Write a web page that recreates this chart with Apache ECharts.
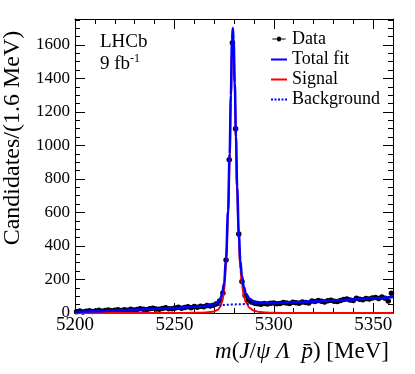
<!DOCTYPE html>
<html>
<head>
<meta charset="utf-8">
<script src="https://cdn.jsdelivr.net/npm/echarts@6/dist/echarts.min.js"></script>
<style>
    html, body { margin: 0; padding: 0; background: #fff; }
    #chart { width: 415px; height: 374px; }
</style>
</head>
<body>
<div id="chart"></div>
<script>
// binning of the histogram (from the axis title: 1.6 MeV per bin)
var binLow = 5200;
var binWidth = 1.6;

// candidates per bin (100 bins, 5200-5360 MeV)
var counts = [
    8, 12, 6, 10, 14, 9, 12, 16, 11, 15,
    18, 13, 16, 20, 15, 19, 17, 22, 18, 21,
    26, 22, 20, 25, 28, 24, 22, 27, 31, 26,
    25, 30, 34, 29, 33, 37, 32, 39, 35, 41,
    38, 45, 42, 47, 55, 72, 120, 316, 915, 1613,
    1100, 471, 188, 105, 78, 66, 58, 55, 52, 56,
    54, 58, 60, 55, 57, 62, 59, 56, 64, 61,
    58, 66, 63, 60, 72, 68, 74, 70, 66, 73,
    76, 70, 68, 75, 80, 84, 78, 74, 88, 82,
    79, 86, 83, 90, 92, 86, 95, 88, 72, 118
];

// fit curves
var fitMass = [5200, 5210, 5220, 5230, 5240, 5250, 5260, 5266, 5270, 5272,
    5273, 5274, 5275, 5276, 5277, 5277.8, 5278.4, 5279, 5279.4, 5279.8,
    5280.4, 5281, 5281.6, 5282.4, 5283.2, 5284, 5285, 5286, 5288, 5290,
    5293, 5296, 5300, 5310, 5320, 5330, 5340, 5350, 5360];
var fitSignal = [0, 0, 0, 0, 0, 0, 1, 3, 9, 20,
    35, 65, 130, 280, 560, 900, 1250, 1580, 1650, 1580,
    1320, 1000, 700, 430, 260, 170, 100, 62, 28, 14,
    6, 3, 1, 0, 0, 0, 0, 0, 0];
var fitBackground = [5, 10, 15, 20, 25, 30, 36, 40, 43, 45,
    46, 47, 48, 49, 49.5, 50, 50, 50.5, 51, 51,
    51, 51.5, 51.5, 52, 52, 52.5, 53, 53.5, 54, 55,
    56.5, 57.5, 59, 64, 69, 75, 81, 88, 95];

var font = 'Liberation Serif';

// build series data
var points = [], errors = [], sigLine = [], bkgLine = [], totLine = [];
for (var i = 0; i < counts.length; i++) {
    var x = binLow + binWidth * (i + 0.5);
    points.push([x, counts[i]]);
    errors.push([x, counts[i], Math.sqrt(counts[i])]);
}
for (var j = 0; j < fitMass.length; j++) {
    sigLine.push([fitMass[j], fitSignal[j]]);
    bkgLine.push([fitMass[j], fitBackground[j]]);
    totLine.push([fitMass[j], fitSignal[j] + fitBackground[j]]);
}

function plain(v) {
    return String(v);
}

function xAxisDef(pos, interval, tickLen, main) {
    return {
        type: 'value', position: pos, min: 5200, max: 5360, interval: interval,
        axisLine: { show: main, onZero: false, lineStyle: { color: '#000', width: 1 } },
        axisTick: { show: true, inside: true, length: tickLen, lineStyle: { color: '#000', width: 1 } },
        axisLabel: { show: false },
        splitLine: { show: false }
    };
}
function yAxisDef(pos, interval, tickLen, main) {
    return {
        type: 'value', position: pos, min: 0, max: 1755, interval: interval,
        axisLine: { show: main, onZero: false, lineStyle: { color: '#000', width: 1 } },
        axisTick: { show: true, inside: true, length: tickLen, lineStyle: { color: '#000', width: 1 } },
        axisLabel: { show: false },
        splitLine: { show: false }
    };
}

var xBottom = xAxisDef('bottom', 50, 10, true);
xBottom.axisLabel = {
    show: true, margin: 3, showMaxLabel: false, formatter: plain,
    fontFamily: font, fontSize: 19, color: '#000'
};
xBottom.name = '{i|m}({i|J}/{i|ψ} {i|Λ}  {i|p̄}) [MeV]';
xBottom.nameLocation = 'middle';
xBottom.nameGap = 27;
xBottom.nameTextStyle = {
    fontFamily: font, fontSize: 23, color: '#000', padding: [0, 0, 0, 136],
    rich: { i: { fontFamily: font, fontSize: 23, fontStyle: 'italic', color: '#000' } }
};

var yLeft = yAxisDef('left', 200, 10, true);
yLeft.axisLabel = {
    show: true, margin: 5, showMaxLabel: false, formatter: plain,
    fontFamily: font, fontSize: 17, color: '#000'
};
yLeft.name = 'Candidates/(1.6 MeV)';
yLeft.nameLocation = 'middle';
yLeft.nameGap = 37;
yLeft.nameTextStyle = { fontFamily: font, fontSize: 24, color: '#000', padding: [0, 0, 0, 56] };

var chart = echarts.init(document.getElementById('chart'));
var option = {
    animation: false,
    backgroundColor: '#fff',
    grid: { left: 75, right: 22, top: 19, bottom: 61, containLabel: false, outerBoundsMode: 'none' },
    title: {
        text: 'LHCb\n9 fb{s|-1}',
        left: 100, top: 31, padding: 0,
        textStyle: {
            fontFamily: font, fontSize: 19, fontWeight: 'normal', color: '#000', lineHeight: 22,
            rich: { s: { fontFamily: font, fontSize: 12, color: '#000', verticalAlign: 'top', lineHeight: 22 } }
        }
    },
    legend: {
        data: [
            { name: 'Data', icon: 'path://M0 2.5H5.5A2.5 2.5 0 0 1 10.5 2.5H16V3.5H10.5A2.5 2.5 0 0 1 5.5 3.5H0Z' },
            { name: 'Total fit', icon: 'path://M0 1.9H16V3.9H0Z M0 0H0.01V5H0Z' },
            { name: 'Signal', icon: 'path://M0 1.9H16V3.9H0Z M0 0H0.01V5H0Z' },
            { name: 'Background', icon: 'path://M0 2H2V4H0Z M3.5 2H5.5V4H3.5Z M7 2H9V4H7Z M10.5 2H12.5V4H10.5Z M14 2H16V4H14Z M0 0H0.01V5H0Z' }
        ],
        orient: 'vertical', left: 271, top: 30, padding: 0,
        itemWidth: 16, itemHeight: 5, itemGap: 2,
        textStyle: { fontFamily: font, fontSize: 18, color: '#000' }
    },
    xAxis: [
        xBottom,
        xAxisDef('bottom', 10, 5, false),
        xAxisDef('top', 50, 10, true),
        xAxisDef('top', 10, 5, false)
    ],
    yAxis: [
        yLeft,
        yAxisDef('left', 50, 5, false),
        yAxisDef('right', 200, 10, true),
        yAxisDef('right', 50, 5, false)
    ],
    series: [
        {
            name: 'errors', type: 'custom', data: errors, z: 3,
            renderItem: function (params, api) {
                var x = api.value(0), y = api.value(1), e = api.value(2);
                var top = api.coord([x, y + e]);
                var bot = api.coord([x, Math.max(y - e, 0)]);
                var l = api.coord([x - binWidth / 2, y]);
                var r = api.coord([x + binWidth / 2, y]);
                var st = { stroke: '#000', lineWidth: 1 };
                return {
                    type: 'group', children: [
                        { type: 'line', shape: { x1: top[0], y1: top[1], x2: bot[0], y2: bot[1] }, style: st },
                        { type: 'line', shape: { x1: l[0], y1: l[1], x2: r[0], y2: r[1] }, style: st }
                    ]
                };
            }
        },
        {
            name: 'Data', type: 'scatter', data: points, symbol: 'circle', symbolSize: 5.5, z: 3,
            itemStyle: { color: '#000', opacity: 1 }
        },
        {
            name: 'Signal', type: 'line', data: sigLine, showSymbol: false, symbol: 'none', z: 4,
            smooth: 0.4, smoothMonotone: 'x',
            lineStyle: { color: '#ff0000', width: 2 }, itemStyle: { color: '#ff0000' }
        },
        {
            name: 'Background', type: 'line', data: bkgLine, showSymbol: false, symbol: 'none', z: 5,
            smooth: 0.4, smoothMonotone: 'x',
            lineStyle: { color: '#0000ff', width: 2, type: 'dotted' }, itemStyle: { color: '#0000ff' }
        },
        {
            name: 'Total fit', type: 'line', data: totLine, showSymbol: false, symbol: 'none', z: 6,
            smooth: 0.4, smoothMonotone: 'x',
            lineStyle: { color: '#0000ff', width: 2.5 }, itemStyle: { color: '#0000ff' }
        }
    ]
};
chart.setOption(option);
</script>
</body>
</html>
